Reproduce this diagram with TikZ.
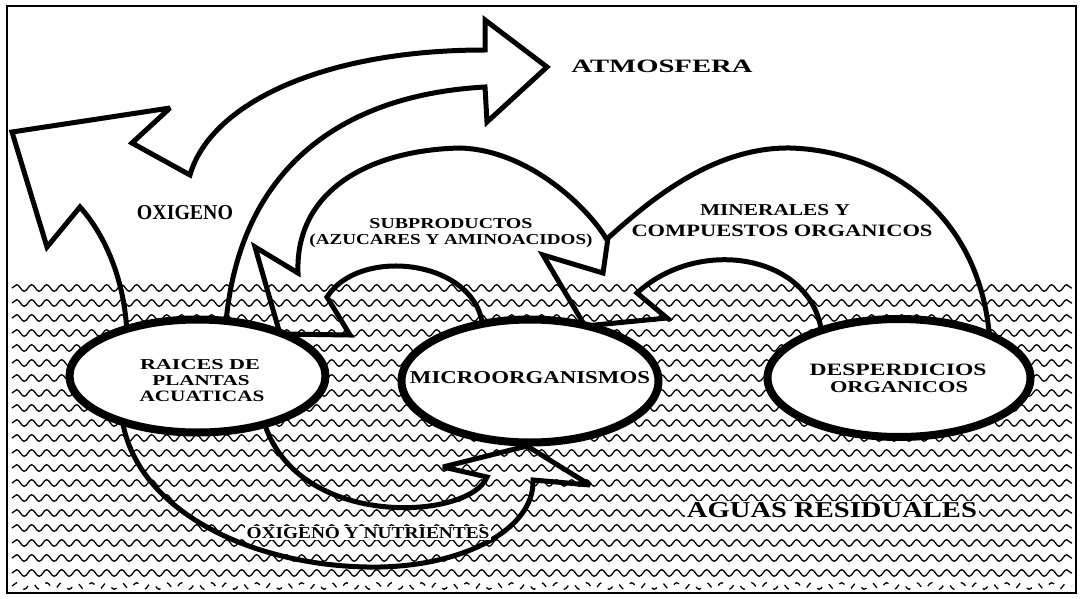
\documentclass[tikz,border=0pt]{standalone}
\usepackage{fontspec}
\usepackage{graphicx}
\setmainfont{Liberation Serif}
\usetikzlibrary{shapes.geometric,decorations.pathmorphing}
\newcommand{\fitt}[3]{\resizebox{#1pt}{#2pt}{#3}}
\begin{document}
\begin{tikzpicture}[x=1pt,y=-1pt,
  every node/.style={inner sep=0pt, outer sep=0pt},
  blk/.style={draw=black, line width=5pt, line join=miter, miter limit=3},
  ell/.style={ellipse, draw=black, line width=8pt, fill=white, inner sep=0pt},
  wave/.style={draw=black, line width=1.3pt, decorate, decoration={snake, segment length=15pt, amplitude=3.3pt}},
  lab/.style={font=\rmfamily\bfseries, text=black},
  labw/.style={lab, fill=white, inner sep=1.5pt}
]
\useasboundingbox (0,0) rectangle (1082,599);
\fill[white] (0,0) rectangle (1082,599);
\draw[line width=2pt] (7,6) rectangle (1076,593);
% water
\foreach \k in {0,...,19} \draw[wave] (12,{288+15*\k}) -- (1072,{288+15*\k});
\draw[wave, dash pattern=on 6pt off 9pt] (12,586) -- (1072,586);
% arrow: roots -> oxygen / atmosphere
\draw[blk] (127,335) .. controls (125,280) and (105,235) .. (80,207) -- (47,247) -- (12,132) -- (170,108) -- (132,143) -- (190,175)
  .. controls (210,105) and (320,50) .. (485,50) -- (485,20) -- (547,67) -- (487,122) -- (485,87)
  .. controls (340,95) and (235,170) .. (225,335);
% arrow: microorganisms -> roots (subproductos)
\draw[blk] (607,240) .. controls (590,210) and (530,150) .. (460,148) .. controls (370,150) and (295,190) .. (298,273)
  -- (255,247) -- (280,334) -- (350,335) -- (327,297) .. controls (360,245) and (480,260) .. (483,330);
% arrow: desperdicios -> microorganisms (minerales)
\draw[blk] (990,342) .. controls (980,200) and (870,150) .. (790,148) .. controls (710,147) and (645,205) .. (608,238)
  -- (603,273) -- (543,255) -- (585,326) -- (667,318) -- (637,293) .. controls (700,235) and (815,255) .. (822,336);
% arrow: roots -> microorganisms (oxigeno y nutrientes)
\draw[blk] (122,418) .. controls (135,510) and (250,565) .. (367,567) .. controls (460,569) and (535,530) .. (533,480)
  -- (590,485) -- (527,446) -- (443,467) -- (487,477) .. controls (470,520) and (300,530) .. (265,425);
% ellipses
\node[ell, minimum width=256pt, minimum height=113pt] (raices) at (197.5,376) {};
\node[ell, minimum width=257pt, minimum height=123pt] (micro) at (530,381) {};
\node[ell, minimum width=263pt, minimum height=118pt] (desp) at (899,378) {};
% labels
\node[lab] (atm) at (662,66) {\fitt{181}{12.5}{ATMOSFERA}};
\node[lab] (oxi) at (185,212.5) {\fitt{96}{14}{OXIGENO}};
\node[lab] (sub1) at (451,224) {\fitt{163}{10}{SUBPRODUCTOS}};
\node[lab] (sub2) at (451,241) {\fitt{283}{10.5}{(AZUCARES Y AMINOACIDOS)}};
\node[lab] (min1) at (775,210) {\fitt{150}{11}{MINERALES Y}};
\node[lab] (min2) at (782,231) {\fitt{301}{11.5}{COMPUESTOS ORGANICOS}};
\node[lab] (r1) at (200,364.5) {\fitt{120}{10}{RAICES DE}};
\node[lab] (r2) at (201,380.5) {\fitt{97}{10}{PLANTAS}};
\node[lab] (r3) at (202,396.5) {\fitt{125}{10.5}{ACUATICAS}};
\node[lab] (m1) at (530,378) {\fitt{240}{12}{MICROORGANISMOS}};
\node[lab] (d1) at (898,370) {\fitt{177}{11.5}{DESPERDICIOS}};
\node[lab] (d2) at (899,387) {\fitt{138}{11}{ORGANICOS}};
\node[labw] (oxn) at (368,533) {\fitt{243}{11}{OXIGENO Y NUTRIENTES}};
\node[labw] (agu) at (832,510) {\fitt{290}{15}{AGUAS RESIDUALES}};
\end{tikzpicture}
\end{document}
